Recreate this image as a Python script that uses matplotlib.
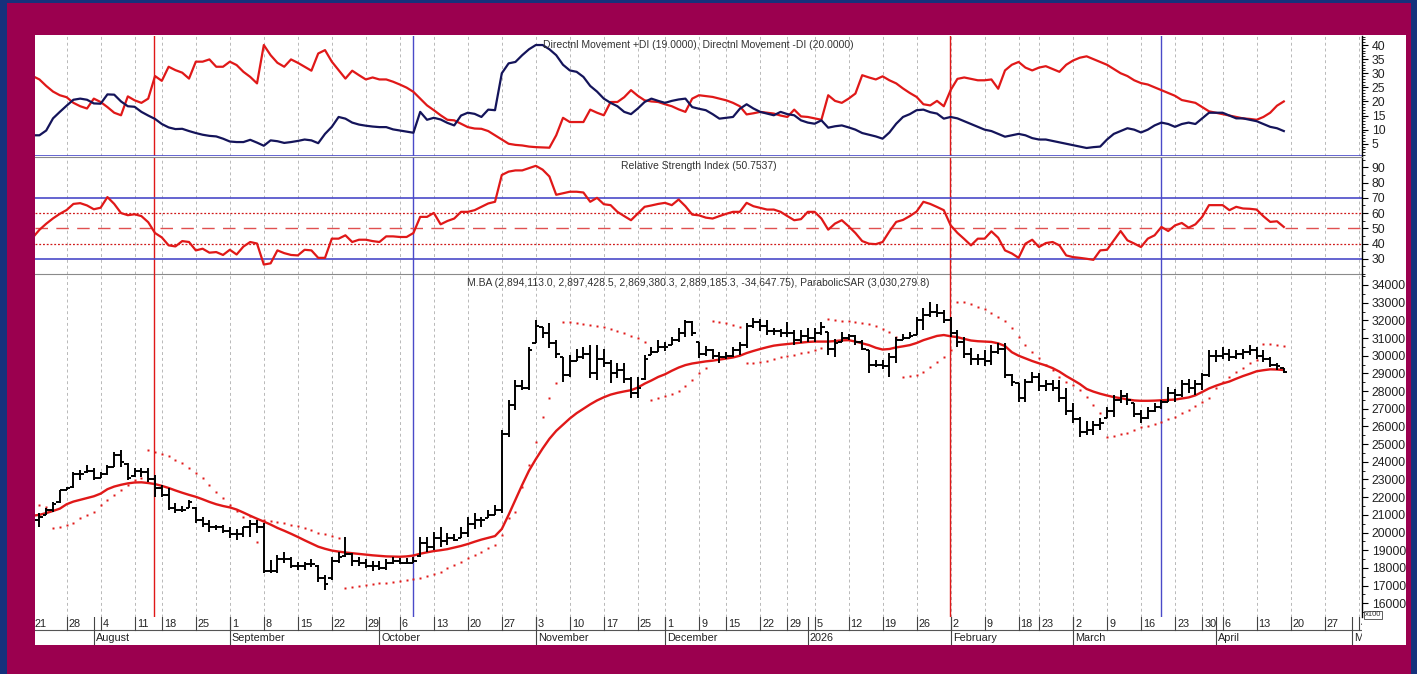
import numpy as np
import pandas as pd
import matplotlib
matplotlib.use('Agg')
import matplotlib.pyplot as plt
from matplotlib.patches import Rectangle
from matplotlib.ticker import MultipleLocator

plt.rcParams['font.family'] = ['Liberation Sans', 'DejaVu Sans']

# trading calendar (BYMA) - holidays that have no bar
HOLIDAYS = ['2025-08-15', '2025-11-24', '2025-12-08', '2025-12-25', '2026-01-01',
            '2026-02-16', '2026-02-17', '2026-03-24', '2026-04-02', '2026-04-03']
MONTH_NAMES = {8: 'August', 9: 'September', 10: 'October', 11: 'November',
               12: 'December', 1: '2026', 2: 'February', 3: 'March', 4: 'April', 5: 'M'}
RED_MARKS = ['2025-08-14', '2026-02-02']
BLUE_MARKS = ['2025-10-08', '2026-03-19']

# ---- M.BA daily bars, 2025-07-21 .. 2026-04-17 ----
high = [20800, 21100, 21390, 21730, 22400, 22580, 23420, 23530, 23820, 23650,
        23420, 23820, 24550, 24670, 23930, 23650, 23650, 23650, 23250, 22690,
        22520, 21670, 21500, 21840, 21440, 20880, 20710, 20430, 20400, 20310,
        20200, 20310, 20710, 20710, 20540, 18450, 18730, 18900, 18620, 18340,
        18340, 18500, 18160, 17600, 18620, 18900, 19750, 18850, 18600, 18500,
        18400, 18400, 18500, 18620, 18550, 18550, 18620, 19750, 19750, 20030,
        20310, 20000, 19900, 20310, 20880, 21100, 20880, 21270, 21560, 25800,
        27500, 28630, 28630, 30490, 32020, 31600, 31850, 30890, 29930, 30040,
        30380, 30490, 30600, 30600, 30380, 29760, 29590, 29590, 28800, 28800,
        30040, 30490, 30890, 30800, 31060, 31570, 32020, 31950, 30780, 30550,
        30400, 30210, 30200, 30500, 30780, 31850, 32130, 32050, 32020, 31570,
        31500, 31910, 31460, 31460, 31550, 31550, 31910, 31340, 30950, 31340,
        31250, 31170, 30890, 30320, 29760, 29760, 30150, 31060, 31230, 31340,
        32190, 32700, 33040, 32900, 32590, 32190, 31460, 31060, 30430, 30100,
        30300, 30600, 30700, 30720, 28970, 28460, 28700, 29080, 29000, 28600,
        28600, 28630, 28170, 27330, 26530, 26300, 26300, 26500, 27100, 27780,
        28060, 27900, 27330, 26930, 27100, 27300, 27500, 28230, 28100, 28630,
        28700, 28600, 29020, 30320, 30320, 30490, 30400, 30300, 30400, 30600,
        30500, 30320, 29930, 29600, 29300]
low = [20200, 20300, 20990, 21160, 21670, 22400, 22520, 22970, 23360, 22970,
       23080, 23250, 23700, 23700, 22970, 23140, 23140, 22860, 22010, 22010,
       21270, 21100, 21160, 21390, 20540, 20310, 20030, 20150, 20000, 19690,
       19600, 19750, 19750, 20000, 17710, 17710, 17710, 18280, 17990, 17900,
       17900, 18060, 17200, 16750, 17310, 18280, 18620, 18120, 18100, 17990,
       17800, 17900, 17900, 18200, 18200, 18200, 18280, 18620, 18900, 19000,
       19200, 19300, 19500, 19690, 19750, 20200, 20310, 20800, 20990, 21100,
       25400, 26930, 28060, 28060, 30720, 31000, 30430, 29870, 28510, 28800,
       29700, 29810, 28740, 28630, 29360, 28460, 28740, 28460, 27600, 27600,
       28630, 30040, 30210, 30250, 30600, 30780, 31060, 31100, 29870, 29990,
       29800, 29590, 29800, 29900, 30040, 30430, 31570, 31400, 31170, 31170,
       31060, 31060, 30600, 30700, 30800, 30800, 31170, 30040, 29930, 30780,
       30900, 30600, 30320, 29020, 29360, 29250, 28800, 29590, 30890, 31000,
       31170, 31460, 32190, 32200, 31850, 31060, 30490, 29870, 29480, 29500,
       29400, 29480, 30100, 28740, 28290, 27380, 27400, 28460, 28000, 28000,
       28000, 27380, 26650, 26200, 25400, 25500, 25500, 25800, 26480, 26530,
       27330, 27200, 26530, 26200, 26400, 26800, 27000, 27380, 27400, 27670,
       27900, 27800, 28060, 28800, 29650, 29820, 29700, 29800, 29800, 30040,
       29800, 29650, 29360, 29200, 29020]
open_ = [20400, 20700, 21000, 21300, 21700, 22400, 22600, 23300, 23400, 23500,
         23100, 23300, 23700, 24400, 23900, 23200, 23500, 23400, 23000, 22500,
         22100, 21400, 21300, 21400, 21400, 20700, 20500, 20300, 20300, 20100,
         19900, 19900, 20300, 20500, 20300, 17800, 17800, 18500, 18500, 18100,
         18100, 18200, 18100, 17400, 17400, 18400, 18700, 18800, 18400, 18300,
         18100, 18100, 18000, 18300, 18400, 18300, 18300, 18700, 19400, 19200,
         19700, 19500, 19700, 19700, 20000, 20500, 20700, 20800, 21000, 21300,
         25600, 27200, 28300, 28200, 30700, 31600, 31300, 30700, 29900, 28900,
         29700, 29900, 30100, 29000, 29800, 29600, 29000, 29200, 28700, 27900,
         28700, 30040, 30210, 30500, 30600, 30900, 31300, 31900, 30780, 30100,
         30300, 30000, 29900, 30000, 30300, 30600, 31700, 31900, 31700, 31400,
         31400, 31300, 31300, 30900, 31100, 31000, 31300, 31340, 30400, 30780,
         31000, 31100, 30800, 30320, 29500, 29500, 29400, 29900, 30900, 31000,
         31170, 32000, 32300, 32500, 32400, 32000, 31300, 30800, 30100, 29800,
         29800, 29700, 30200, 30400, 28900, 28460, 27600, 28500, 28800, 28300,
         28400, 28200, 27600, 26900, 26400, 25700, 25800, 26100, 26480, 26900,
         27500, 27700, 27330, 26700, 26500, 26900, 27100, 27400, 27900, 27800,
         28400, 28200, 28400, 28900, 30000, 30000, 30100, 29900, 30100, 30200,
         30300, 30000, 29800, 29500, 29300]
close = [20700, 20900, 21300, 21600, 22400, 22500, 23300, 23300, 23500, 23100,
         23300, 23700, 24400, 24000, 23100, 23500, 23400, 23000, 22500, 22100,
         21400, 21300, 21300, 21700, 20700, 20500, 20300, 20300, 20100, 19900,
         19900, 20300, 20500, 20300, 17800, 17800, 18500, 18500, 18100, 18100,
         18200, 18200, 17400, 17100, 18400, 18600, 18800, 18400, 18300, 18100,
         18100, 18000, 18300, 18400, 18300, 18300, 18400, 19400, 19200, 19700,
         19500, 19700, 19600, 20000, 20500, 20700, 20700, 21000, 21300, 25600,
         27200, 28300, 28200, 30300, 31700, 31300, 30700, 30100, 28900, 29700,
         29900, 30100, 29000, 29800, 29600, 29000, 29200, 28700, 27900, 28200,
         29800, 30200, 30500, 30500, 30900, 31300, 31900, 31300, 30100, 30300,
         30000, 29900, 30000, 30300, 30600, 31700, 31900, 31700, 31400, 31400,
         31300, 31300, 30900, 31100, 31000, 31300, 31600, 30400, 30700, 31000,
         31100, 30800, 30400, 29500, 29500, 29400, 29900, 30900, 31000, 31100,
         32000, 32300, 32500, 32400, 32000, 31300, 30800, 30100, 29800, 29800,
         29700, 30200, 30400, 28900, 28500, 27600, 28500, 28800, 28300, 28400,
         28200, 27600, 26900, 26400, 25700, 25800, 26100, 26200, 26900, 27500,
         27700, 27500, 26700, 26500, 26900, 27100, 27400, 27900, 27800, 28400,
         28200, 28400, 28900, 30000, 30000, 30100, 29900, 30100, 30200, 30300,
         30000, 29800, 29500, 29400, 29100]
mov_avg = [20950, 21000, 21100, 21220, 21350, 21600, 21750, 21850, 21950, 22050,
           22200, 22450, 22600, 22700, 22780, 22830, 22840, 22800, 22740, 22640,
           22520, 22380, 22250, 22130, 22020, 21880, 21730, 21600, 21500, 21420,
           21300, 21130, 20950, 20780, 20620, 20450, 20260, 20100, 19930, 19750,
           19560, 19380, 19200, 19080, 18980, 18920, 18870, 18830, 18790, 18750,
           18710, 18680, 18650, 18640, 18630, 18650, 18700, 18800, 18880, 18950,
           19000, 19060, 19150, 19240, 19350, 19480, 19600, 19700, 19800, 20200,
           21000, 21850, 22700, 23500, 24150, 24750, 25300, 25750, 26100, 26450,
           26750, 27000, 27250, 27470, 27650, 27800, 27900, 27980, 28050, 28200,
           28420, 28600, 28800, 28950, 29150, 29330, 29470, 29560, 29620, 29680,
           29720, 29780, 29840, 29900, 30000, 30150, 30270, 30380, 30480, 30570,
           30620, 30660, 30700, 30740, 30780, 30800, 30800, 30800, 30830, 30870,
           30880, 30800, 30700, 30600, 30450, 30350, 30380, 30470, 30530, 30600,
           30720, 30880, 31000, 31120, 31170, 31100, 31050, 30950, 30860, 30820,
           30800, 30780, 30700, 30550, 30200, 30000, 29850, 29700, 29570, 29450,
           29300, 29100, 28850, 28630, 28400, 28120, 27970, 27850, 27750, 27660,
           27600, 27530, 27470, 27450, 27450, 27460, 27480, 27500, 27520, 27580,
           27640, 27760, 27950, 28150, 28300, 28430, 28540, 28700, 28850, 28980,
           29120, 29180, 29230, 29220, 29190]
sar = [21600, 21560, 21470, 20240, 20330, 20430, 20520, 20800, 20990, 21180,
       21560, 21840, 22120, 22400, 22690, 22970, 23070, 24670, 24560, 24440,
       24330, 24100, 23930, 23650, 23360, 23080, 22690, 22310, 21930, 21560,
       21200, 20900, 20950, 19480, 20710, 20650, 20600, 20520, 20430, 20350,
       20240, 20150, 20000, 19900, 19800, 19700, 16850, 16900, 16980, 17040,
       17090, 17130, 17170, 17220, 17280, 17320, 17350, 17410, 17540, 17660,
       17790, 17980, 18170, 18360, 18540, 18730, 18920, 19110, 19290, 19860,
       20800, 21180, 22590, 23820, 25140, 26550, 27590, 28440, 31926, 31888,
       31832, 31775, 31738, 31681, 31606, 31511, 31417, 31304, 31115, 30984,
       30795, 27495, 27590, 27722, 27835, 28023, 28287, 28626, 29004, 29324,
       31982, 31926, 31832, 31738, 31643, 29569, 29607, 29663, 29720, 29795,
       29908, 29984, 30040, 30135, 30229, 30323, 30418, 32058, 32020, 31982,
       31963, 31926, 31869, 31794, 31681, 31492, 31360, 31077, 28815, 28853,
       28909, 29098, 29381, 29663, 29909, 30323, 33057, 33019, 32906, 32774,
       32623, 32397, 32209, 31982, 31549, 31077, 30606, 30229, 29852, 29475,
       29192, 28815, 28532, 28344, 28061, 27684, 27213, 26741, 25422, 25478,
       25553, 25648, 25798, 25949, 26044, 26138, 26270, 26402, 26553, 26741,
       26930, 27156, 27401, 27590, 28155, 28532, 28815, 29098, 29286, 29569,
       29758, 30663, 30663, 30606, 30550]

# ---- Directional movement ----
plus_di = [8.0, 8.0, 9.7, 14.0, 16.3, 18.5, 20.6, 21.0, 20.6, 19.3,
           19.2, 22.5, 22.4, 20.0, 18.3, 18.1, 16.3, 15.0, 13.8, 12.0,
           10.8, 10.2, 10.3, 9.5, 8.8, 8.2, 7.8, 7.6, 6.8, 5.8,
           5.6, 5.6, 6.4, 5.4, 4.3, 6.2, 5.9, 5.3, 5.6, 6.0,
           6.5, 6.2, 5.2, 8.5, 11.0, 14.5, 13.9, 12.5, 11.8, 11.4,
           11.1, 10.9, 10.9, 10.1, 9.7, 9.3, 8.9, 16.3, 13.5, 14.2,
           13.6, 12.4, 11.5, 15.0, 16.0, 15.6, 14.5, 17.1, 16.9, 30.0,
           33.5, 34.0, 36.4, 38.5, 40.0, 40.0, 38.5, 36.4, 33.0, 31.0,
           30.5, 28.7, 25.5, 23.5, 21.0, 19.5, 18.3, 16.3, 15.5, 17.5,
           19.8, 21.0, 20.2, 19.5, 20.2, 20.7, 21.0, 18.0, 17.4, 16.9,
           15.5, 13.9, 14.2, 14.5, 17.4, 19.0, 17.5, 16.3, 15.7, 15.1,
           16.3, 15.5, 15.1, 13.3, 12.5, 12.1, 13.3, 10.7, 11.2, 11.5,
           10.8, 10.0, 8.8, 8.2, 7.6, 6.8, 9.0, 12.1, 14.5, 15.5,
           16.9, 17.1, 16.2, 15.7, 13.9, 14.5, 14.0, 13.0, 12.0, 11.0,
           10.0, 9.5, 8.5, 7.5, 8.0, 8.5, 8.0, 7.0, 6.5, 6.5,
           6.0, 5.5, 5.0, 4.5, 4.0, 3.5, 3.8, 4.0, 6.5, 8.5,
           9.5, 10.5, 10.0, 9.0, 10.0, 11.5, 12.5, 12.0, 11.0, 12.0,
           12.5, 12.0, 14.0, 16.0, 16.0, 16.0, 15.0, 14.0, 14.0, 13.5,
           13.0, 12.0, 11.0, 10.5, 9.5]
minus_di = [29.0, 27.8, 25.5, 23.5, 22.2, 21.5, 19.5, 18.3, 17.5, 21.0,
            19.8, 18.0, 16.0, 15.1, 21.8, 20.4, 19.5, 21.0, 29.0, 27.3,
            32.3, 31.1, 30.2, 28.1, 34.1, 34.1, 34.9, 32.3, 32.3, 34.1,
            32.9, 30.5, 28.7, 26.4, 40.0, 36.4, 33.7, 32.3, 34.9, 33.7,
            32.3, 30.9, 37.0, 38.2, 34.1, 31.1, 28.1, 30.9, 29.3, 27.8,
            28.5, 27.8, 27.8, 27.0, 26.0, 24.9, 23.4, 21.0, 18.6, 16.9,
            15.1, 13.5, 13.3, 12.1, 10.9, 10.4, 10.3, 9.5, 8.0, 6.5,
            5.0, 4.6, 4.4, 4.0, 3.8, 3.7, 3.6, 8.0, 14.2, 12.7,
            12.7, 12.7, 17.1, 16.0, 15.1, 19.8, 19.8, 21.5, 24.0, 22.0,
            20.4, 20.0, 19.8, 19.0, 18.3, 17.2, 16.3, 21.0, 22.2, 21.9,
            21.6, 21.0, 20.4, 19.5, 18.3, 15.4, 15.8, 16.3, 16.0, 15.7,
            15.0, 14.5, 17.1, 14.7, 14.5, 14.0, 13.5, 22.2, 20.2, 19.5,
            21.0, 22.8, 29.3, 28.5, 27.8, 28.9, 27.5, 26.4, 24.6, 23.0,
            21.6, 19.0, 18.6, 20.2, 18.3, 24.0, 28.0, 28.5, 28.0, 27.5,
            27.5, 27.8, 24.5, 31.0, 33.0, 34.0, 32.0, 31.0, 32.0, 32.5,
            31.5, 30.5, 33.0, 34.5, 35.5, 36.0, 35.0, 34.0, 33.0, 31.5,
            30.0, 29.0, 27.5, 26.5, 26.0, 25.0, 24.0, 23.0, 22.0, 20.5,
            20.0, 19.5, 18.0, 16.5, 16.0, 15.5, 15.0, 14.5, 14.0, 13.8,
            13.5, 14.5, 16.0, 18.5, 20.0]

# ---- RSI ----
rsi = [43.8, 49.0, 53.0, 56.5, 59.5, 62.0, 66.0, 66.5, 65.0, 62.5,
       63.5, 70.5, 66.0, 60.0, 58.6, 59.2, 58.0, 54.0, 46.9, 44.0,
       38.8, 38.1, 41.6, 41.0, 35.5, 36.6, 34.0, 34.4, 32.5, 35.9,
       32.8, 38.0, 41.0, 40.0, 26.2, 27.0, 35.5, 33.7, 32.5, 32.2,
       35.9, 35.5, 30.6, 30.6, 43.2, 43.2, 45.4, 41.0, 42.5, 42.5,
       41.6, 41.0, 44.7, 44.7, 44.3, 44.3, 46.9, 57.5, 57.5, 60.1,
       52.6, 54.8, 56.4, 60.8, 60.8, 61.9, 64.1, 66.3, 67.4, 85.0,
       87.2, 88.0, 88.0, 89.5, 91.0, 88.5, 84.0, 72.0, 73.0, 74.0,
       74.0, 73.5, 67.4, 70.0, 65.8, 65.2, 60.8, 58.0, 55.3, 59.7,
       64.1, 65.0, 66.0, 66.7, 65.2, 68.9, 64.5, 59.0, 58.5, 57.0,
       56.4, 58.0, 59.5, 60.8, 60.8, 66.7, 64.5, 63.4, 62.3, 62.3,
       60.8, 58.0, 55.3, 56.0, 60.8, 60.8, 56.4, 49.1, 53.1, 55.3,
       51.3, 46.9, 41.6, 39.9, 39.6, 41.0, 48.0, 54.2, 55.5, 58.0,
       61.0, 67.4, 66.0, 64.0, 61.9, 52.0, 47.0, 43.0, 38.8, 43.2,
       43.2, 48.0, 43.8, 35.5, 33.5, 30.6, 39.9, 42.5, 37.7, 40.3,
       41.0, 38.8, 32.2, 31.1, 30.6, 30.0, 29.3, 35.5, 35.9, 42.1,
       48.2, 42.1, 40.0, 37.7, 43.2, 45.4, 50.9, 48.2, 51.9, 53.5,
       50.4, 52.6, 57.5, 65.2, 65.2, 65.2, 61.9, 64.1, 63.0, 62.8,
       62.3, 57.9, 54.2, 54.6, 50.9]

W, HH = 1417, 674
def fx(px):
    return px / W
def fy(py):
    return 1 - py / HH

days = pd.bdate_range('2025-07-21', '2026-05-08')
days = days[~days.isin(pd.to_datetime(HOLIDAYS))]
n = len(close)
xs = np.arange(n)
pos = {d: i for i, d in enumerate(days)}

week_idx, month_idx = [], []
for i, d in enumerate(days):
    if i == 0 or d.isocalendar()[1] != days[i - 1].isocalendar()[1]:
        week_idx.append(i)
    if i > 0 and d.month != days[i - 1].month:
        month_idx.append(i)

XLIM = (0.35, 195.5)
RED = '#e01818'
NAVY = '#14145a'
BLUE = '#4a4ac8'

fig = plt.figure(figsize=(W / 100, HH / 100), dpi=100)
fig.patch.set_facecolor('#15317c')
fig.patches.append(Rectangle((fx(7), 0), fx(1411) - fx(7), fy(3), transform=fig.transFigure,
                             facecolor='#9b004f', edgecolor='none', zorder=-20))
fig.patches.append(Rectangle((fx(35), fy(645)), fx(1406) - fx(35), fy(35) - fy(645),
                             transform=fig.transFigure, facecolor='white', edgecolor='none',
                             zorder=-10))

ax_di = fig.add_axes([fx(35), fy(156), fx(1362) - fx(35), fy(36) - fy(156)])
ax_rsi = fig.add_axes([fx(35), fy(274), fx(1362) - fx(35), fy(157) - fy(274)])
ax_p = fig.add_axes([fx(35), fy(617), fx(1362) - fx(35), fy(274) - fy(617)])
ax_d = fig.add_axes([fx(35), fy(645), fx(1362) - fx(35), fy(617) - fy(645)])

for ax in (ax_di, ax_rsi, ax_p):
    ax.set_facecolor('none')
    ax.set_xlim(*XLIM)
    ax.set_xticks([])
    for s in ('left', 'top', 'bottom'):
        ax.spines[s].set_visible(False)
    ax.spines['right'].set_color('black')
    ax.spines['right'].set_linewidth(1.0)
    ax.yaxis.tick_right()
    ax.tick_params(axis='y', which='major', direction='out', length=4, width=0.8,
                   labelsize=8.8, pad=3, colors='black', labelcolor='#222222')
    ax.tick_params(axis='y', which='minor', direction='out', length=2, width=0.6)
    for w in week_idx:
        ax.axvline(w, color='#b8b8b8', lw=0.7, ls=(0, (3, 3)), zorder=1)
    for d in RED_MARKS:
        ax.axvline(pos[pd.Timestamp(d)] - 0.1, color=RED, lw=1.0, zorder=2)
    for d in BLUE_MARKS:
        ax.axvline(pos[pd.Timestamp(d)] - 0.1, color=BLUE, lw=1.0, zorder=2)

# DI panel
ax_di.set_ylim(0.66, 43.2)
ax_di.set_yticks(range(5, 41, 5))
ax_di.yaxis.set_minor_locator(MultipleLocator(1))
ax_di.plot(xs, minus_di, color=RED, lw=1.6, zorder=3)
ax_di.plot(xs, plus_di, color=NAVY, lw=1.6, zorder=3)
ax_di.axhline(0.75, color=BLUE, lw=1.2, zorder=2)
ax_di.text(0.5, 0.925, 'Directnl Movement +DI (19.0000), Directnl Movement -DI (20.0000)',
           transform=ax_di.transAxes, ha='center', va='center', fontsize=7.5, color='#333333')

# RSI panel
ax_rsi.set_ylim(20, 96.8)
ax_rsi.set_yticks(range(30, 91, 10))
ax_rsi.yaxis.set_minor_locator(MultipleLocator(5))
ax_rsi.spines['top'].set_visible(True)
ax_rsi.spines['top'].set_color('#8a8a8a')
ax_rsi.spines['bottom'].set_visible(True)
ax_rsi.spines['bottom'].set_color('#8a8a8a')
for lvl in (70, 30):
    ax_rsi.axhline(lvl, color=BLUE, lw=1.2, zorder=2)
for lvl in (60, 40):
    ax_rsi.axhline(lvl, color='#d01818', lw=0.9, ls=(0, (1.5, 1.5)), zorder=2)
ax_rsi.axhline(50, color='#e05050', lw=1.0, ls=(0, (9, 6)), zorder=2)
ax_rsi.plot(xs, rsi, color=RED, lw=1.6, zorder=3)
ax_rsi.text(0.5, 0.923, 'Relative Strength Index (50.7537)', transform=ax_rsi.transAxes,
            ha='center', va='center', fontsize=7.5, color='#333333')

# price panel
ax_p.set_ylim(15222, 34622)
ax_p.set_yticks(range(16000, 34001, 1000))
ax_p.yaxis.set_minor_locator(MultipleLocator(500))
ax_p.vlines(xs, low, high, color='black', lw=1.4, zorder=4)
ax_p.hlines(open_, xs - 0.5, xs, color='black', lw=1.4, zorder=4)
ax_p.hlines(close, xs, xs + 0.5, color='black', lw=1.4, zorder=4)
ax_p.plot(xs, mov_avg, color=RED, lw=1.7, zorder=3)
ax_p.plot(xs, sar, ls='none', marker='s', ms=2.1, color=RED, mec='none', zorder=3)
ax_p.text(0.5, 0.974, 'M.BA (2,894,113.0, 2,897,428.5, 2,869,380.3, 2,889,185.3, -34,647.75), '
          'ParabolicSAR (3,030,279.8)', transform=ax_p.transAxes, ha='center', va='center',
          fontsize=7.5, color='#333333')
fig.text(fx(1365), fy(615), 'x100', fontsize=5.5, color='#333333', ha='left', va='center',
         bbox=dict(boxstyle='square,pad=0.12', fc='white', ec='#444444', lw=0.6))

# date axis
ax_d.set_facecolor('none')
ax_d.set_xlim(*XLIM)
ax_d.set_ylim(0, 1)
ax_d.axis('off')
ax_d.axhline(0.52, color='#555555', lw=0.8)
for w in week_idx:
    ax_d.plot([w, w], [0.52, 1.0], color='#444444', lw=0.8)
    ax_d.text(w + 0.3, 0.76, str(days[w].day), fontsize=7.8, color='#222222',
              ha='left', va='center', clip_on=True)
for m in month_idx:
    ax_d.plot([m, m], [0.0, 1.0], color='#444444', lw=0.8)
    ax_d.text(m + 0.3, 0.25, MONTH_NAMES[days[m].month], fontsize=7.8, color='#222222',
              ha='left', va='center', clip_on=True)

fig.savefig('out.png', dpi=100, facecolor=fig.get_facecolor())
